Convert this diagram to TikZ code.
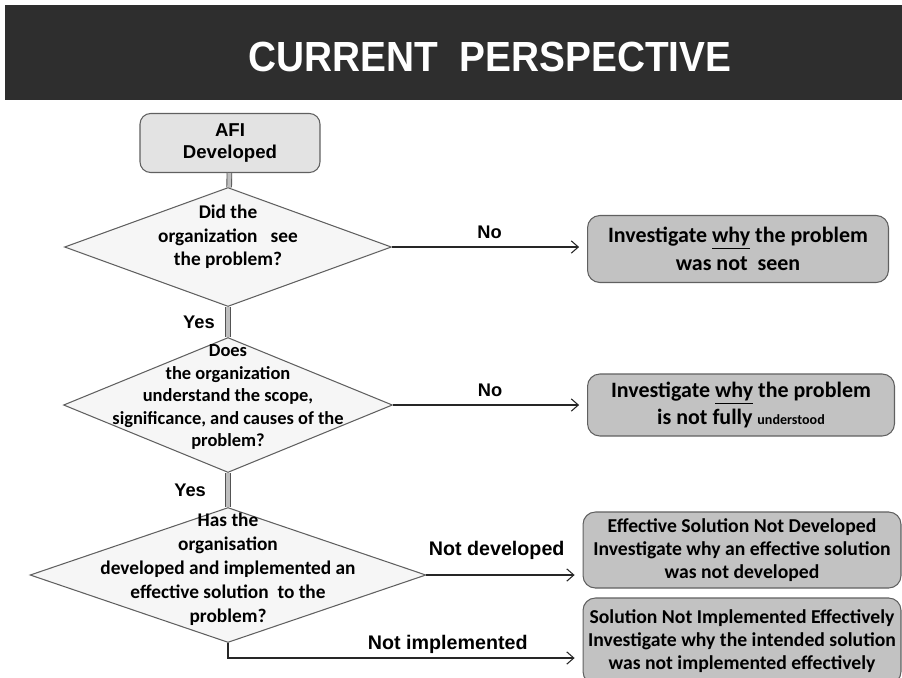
\documentclass[tikz,border=0pt]{standalone}
\usepackage{fontspec}
\setmainfont{Carlito}
\newfontfamily\arialfont{Liberation Sans}
\usetikzlibrary{arrows.meta, positioning, shapes.geometric}

\begin{document}
\begin{tikzpicture}[x=0.02cm, y=-0.02cm,
    startbox/.style={rectangle, rounded corners=6pt, draw=gray!75!black, line width=0.6pt, fill=gray!22,
        minimum width=3.6cm, minimum height=1.18cm, align=center,
        font=\arialfont\bfseries\fontsize{10.6}{13}\selectfont},
    decision/.style={diamond, draw=gray!75!black, line width=0.6pt, fill=gray!7, inner sep=0pt},
    question/.style={align=center, inner sep=0pt},
    outcome/.style={rectangle, rounded corners=7pt, draw=gray!75!black, line width=0.6pt, fill=gray!48,
        align=center, inner sep=0pt},
    flow/.style={draw=gray!65!black, line width=0.5pt, double=gray!50, double distance=2.2pt},
    branch/.style={-{Straight Barb[length=4pt, width=7pt]}, line width=0.6pt, black!85, shorten >=4.5pt},
    answer/.style={text=black, font=\arialfont\bfseries\fontsize{10.4}{12}\selectfont}]
    \useasboundingbox (0,0) rectangle (902,677);

    % title bar
    \fill[black!82] (5,5) rectangle (902,100);
    \node[text=white, font=\arialfont\bfseries\fontsize{24}{28}\selectfont] (title) at (490,57)
        {\scalebox{0.92}[1]{CURRENT\ \ PERSPECTIVE}};

    \node[startbox] (afi) at (230,143) {AFI\\Developed};

    % decisions
    \node[decision, minimum width=6.54cm, minimum height=2.38cm] (seen) at (228,247) {};
    \node[question, font=\bfseries\fontsize{11}{13.5}\selectfont] (seentext) at (228,237)
        {Did the\\organization\ \ \ see\\the problem?};
    \node[decision, minimum width=6.58cm, minimum height=2.7cm] (understood) at (228,405) {};
    \node[question, font=\bfseries\fontsize{10.5}{12.8}\selectfont] (understoodtext) at (228,397)
        {Does\\the organization\\understand the scope,\\significance, and causes of the\\problem?};
    \node[decision, minimum width=7.92cm, minimum height=2.7cm] (solved) at (228,575) {};
    \node[question, font=\bfseries\fontsize{11}{13.6}\selectfont] (solvedtext) at (228,569)
        {Has the\\organisation\\developed and implemented an\\effective solution\ \ to the\\problem?};

    % outcomes
    \node[outcome, minimum width=6.02cm, minimum height=1.34cm, font=\bfseries\fontsize{12.5}{15.8}\selectfont]
        (notseen) at (738,249) {Investigate \underline{why} the problem\\was not\ \ seen};
    \node[outcome, minimum width=6.14cm, minimum height=1.24cm, font=\bfseries\fontsize{12.5}{15.8}\selectfont]
        (notunderstood) at (741,405)
        {Investigate \underline{why} the problem\\is not fully {\fontsize{8}{10}\selectfont understood}};
    \node[outcome, minimum width=6.36cm, minimum height=1.52cm, font=\bfseries\fontsize{11.2}{13.3}\selectfont]
        (notdeveloped) at (742,550)
        {Effective Solution Not Developed\\Investigate why an effective solution\\was not developed};
    \node[outcome, minimum width=6.36cm, minimum height=1.72cm, font=\bfseries\fontsize{11.2}{13}\selectfont]
        (notimplemented) at (742,641)
        {Solution Not Implemented Effectively\\Investigate why the intended solution\\was not implemented effectively};

    % main line
    \draw[flow] (afi) -- (seen);
    \draw[flow] (seen) -- node[answer, left=4pt] {Yes} (understood);
    \draw[flow] (understood) -- node[answer, left=9pt] {Yes} (solved);

    % branches
    \draw[branch] (seen.east) -- node[answer, above=1pt] {No} (seen.east -| notseen.west);
    \draw[branch] (understood.east) -- node[answer, above=1pt] {No} (understood.east -| notunderstood.west);
    \draw[branch] (solved.east) -- node[answer, above=5pt, pos=0.45, font=\arialfont\bfseries\fontsize{11.2}{13}\selectfont]
        {Not developed} (solved.east -| notdeveloped.west);
    \coordinate (nibend) at (228,658);
    \draw[branch] (solved.south) -- (nibend) -- node[answer, above=-1pt, pos=0.62, font=\arialfont\bfseries\fontsize{11.2}{13}\selectfont]
        {Not implemented} (nibend -| notimplemented.west);
\end{tikzpicture}
\end{document}
